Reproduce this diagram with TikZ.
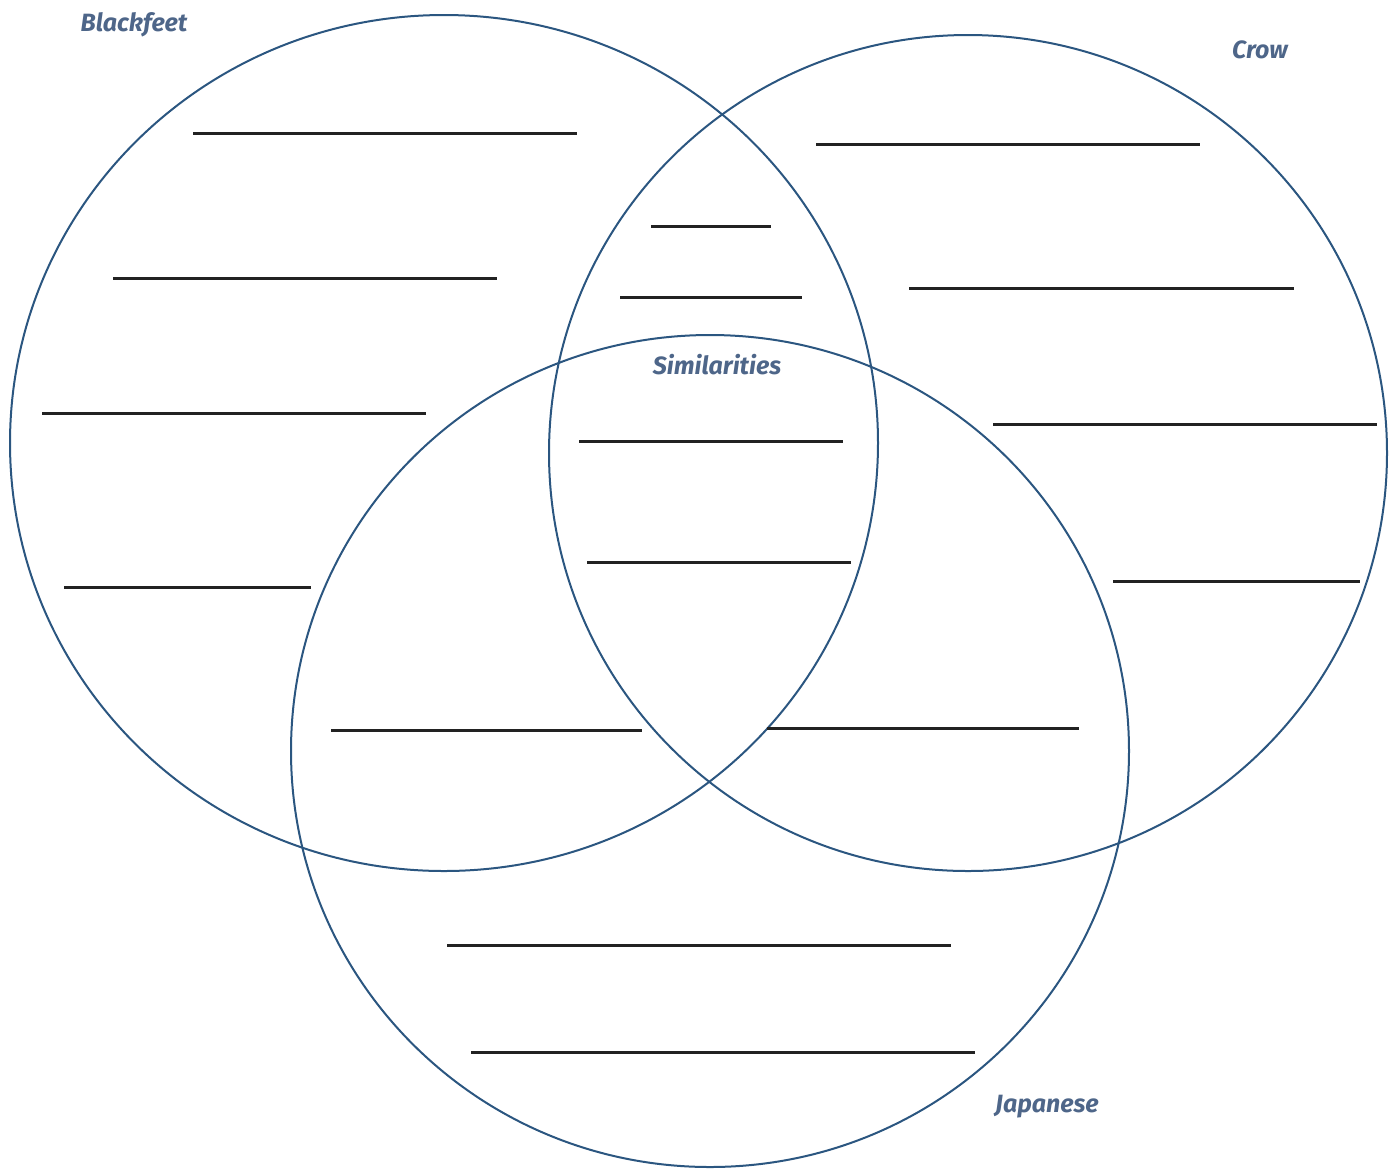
\documentclass[tikz,border=0pt]{standalone}
\usepackage{fontspec}
\setmainfont{Fira Sans}
\definecolor{ringblue}{HTML}{2B5680}
\definecolor{labelblue}{HTML}{4E6689}
\definecolor{rulegray}{HTML}{222222}

\begin{document}
\begin{tikzpicture}[x=0.5pt,y=-0.5pt,
    ring/.style={ringblue,line width=1pt},
    blank/.style={rulegray,line width=1.5pt},
    setname/.style={labelblue,font=\fontsize{12.5}{14}\selectfont\itshape\bfseries}]
  \useasboundingbox (0,0) rectangle (1392,1169);

% the three sets
  \draw[ring] (444,443) ellipse [x radius=434, y radius=428];
  \draw[ring] (968,453) ellipse [x radius=419, y radius=418];
  \draw[ring] (710,751) ellipse [x radius=419, y radius=416];

% set names
  \node[setname] (blackfeet) at (134,25) {Blackfeet};
  \node[setname] (crow) at (1260,50) {Crow};
  \node[setname] (similar) at (717,365) {Similarities};
  \node[setname] (japanese) at (1047,1107) {Japanese};

% writing lines: Blackfeet only
  \foreach \xa/\xb/\y in {193/577/133, 113/497/278, 42/426/413, 64/311/587}
    \draw[blank] (\xa,\y) -- (\xb,\y);

% writing lines: Crow only
  \foreach \xa/\xb/\y in {816/1200/144, 909/1294/288, 993/1377/424, 1113/1360/581}
    \draw[blank] (\xa,\y) -- (\xb,\y);

% writing lines: overlaps
  \foreach \xa/\xb/\y in {651/771/226, 620/802/297, 579/843/441, 587/851/562, 331/642/730, 767/1079/728}
    \draw[blank] (\xa,\y) -- (\xb,\y);

% writing lines: Japanese only
  \foreach \xa/\xb/\y in {447/951/945, 471/975/1052}
    \draw[blank] (\xa,\y) -- (\xb,\y);
\end{tikzpicture}
\end{document}
